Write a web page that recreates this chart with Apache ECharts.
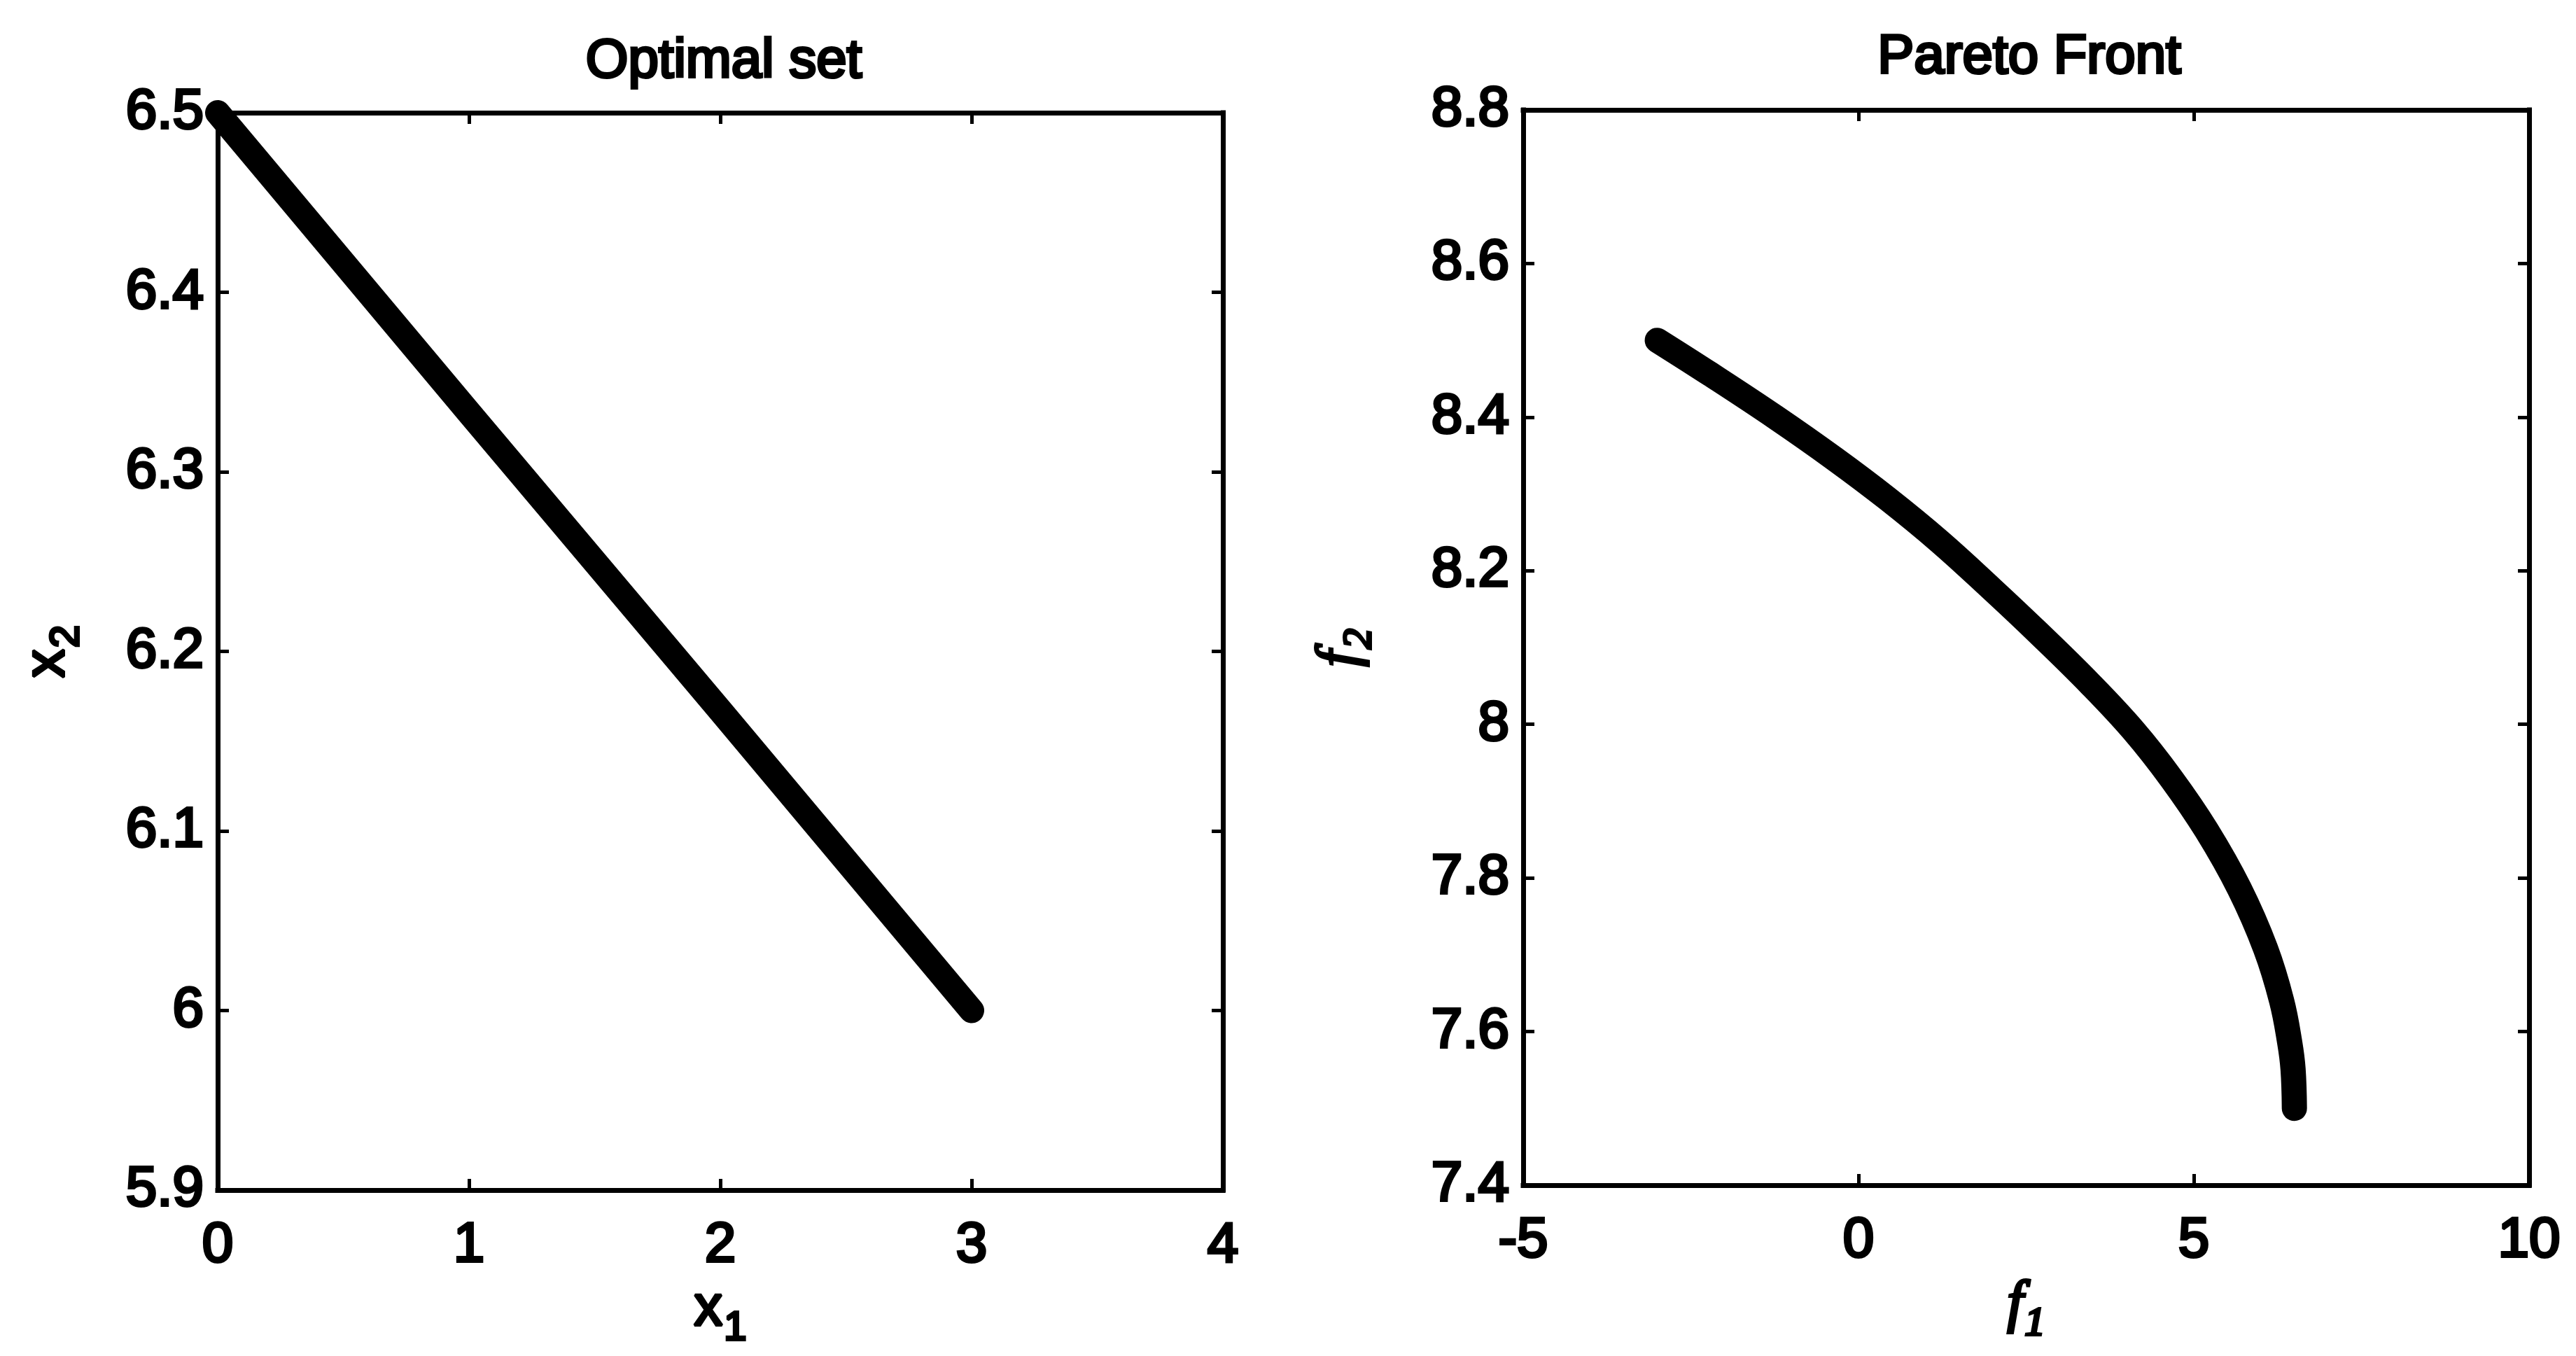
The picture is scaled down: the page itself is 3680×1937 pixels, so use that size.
<!DOCTYPE html>
<html>
<head>
<meta charset="utf-8">
<title>Optimal set and Pareto Front</title>
<script src="https://cdn.jsdelivr.net/npm/echarts@6/dist/echarts.min.js"></script>
<style>
  html, body { margin: 0; padding: 0; background: #ffffff; }
  #chart { width: 3680px; height: 1937px; }
</style>
</head>
<body>
<div id="chart"></div>
<script>
// Decision space: the optimal set (x1, x2)
const x1Values = [0, 1, 2, 3];
const x2Values = [6.5, 6.333, 6.167, 6.0];

// Objective space: the Pareto front (f1, f2)
const f1Values = [-3.0, -2.21, -1.24, -0.36, 0.43, 1.21, 1.99, 2.67, 3.45, 4.1, 4.66, 5.19, 5.68, 6.07, 6.31, 6.43, 6.48, 6.5];
const f2Values = [8.5, 8.456, 8.4, 8.346, 8.294, 8.238, 8.176, 8.12, 8.053, 7.992, 7.93, 7.862, 7.786, 7.708, 7.64, 7.586, 7.551, 7.5];

// Axis ranges and tick steps
const leftX = { min: 0, max: 4, step: 1 };
const leftY = { min: 5.9, max: 6.5, step: 0.1 };
const rightX = { min: -5, max: 10, step: 5 };
const rightY = { min: 7.4, max: 8.8, step: 0.2 };

const titles = ['Optimal set', 'Pareto Front'];

const sans = 'Liberation Sans, Arial, Helvetica, sans-serif';
const serif = 'Liberation Serif, Times New Roman, serif';
const tickFont = 80;
const frameWidth = 7;

// heavier strokes for regular-weight text
const heavy = { textBorderColor: '#000', textBorderWidth: 4 };

function pairs(xs, ys) {
  return xs.map((x, i) => [x, ys[i]]);
}

function frameAxis(range, gridIndex, position, showLabels, extra) {
  return Object.assign({
    type: 'value',
    gridIndex: gridIndex,
    position: position,
    min: range.min,
    max: range.max,
    interval: range.step,
    splitLine: { show: false },
    axisLine: { show: true, onZero: false, lineStyle: { color: '#000', width: frameWidth, cap: 'square' } },
    axisTick: { show: true, inside: true, length: 16, lineStyle: { color: '#000', width: 5 } },
    axisLabel: Object.assign({
      show: showLabels,
      color: '#000',
      fontFamily: sans,
      fontWeight: 'normal',
      fontSize: tickFont,
      margin: (position === 'bottom') ? 40 : 20
    }, heavy)
  }, extra || {});
}

const subRich = (family, style) => ({
  m: Object.assign({ fontFamily: family, fontStyle: style, fontSize: 82, lineHeight: 84, color: '#000', verticalAlign: 'top' }, heavy),
  s: Object.assign({ fontFamily: family, fontStyle: style, fontSize: 58, lineHeight: 58, color: '#000', verticalAlign: 'top', padding: [40, 0, 0, 2] }, heavy)
});

const titleStyle = Object.assign({ fontFamily: sans, fontWeight: 'normal', fontSize: 78, color: '#000' }, heavy);

const option = {
  animation: false,
  backgroundColor: '#ffffff',
  title: [
    { text: titles[0], left: 1029, top: 44, textAlign: 'center', textStyle: titleStyle },
    { text: titles[1], left: 2894, top: 38, textAlign: 'center', textStyle: titleStyle }
  ],
  grid: [
    { left: 311, top: 161, width: 1436, height: 1539, containLabel: false },
    { left: 2176, top: 157, width: 1437, height: 1536, containLabel: false }
  ],
  xAxis: [
    frameAxis(leftX, 0, 'bottom', true, {
      name: '{m|x}{s|1}', nameLocation: 'middle', nameGap: 38,
      nameTextStyle: { rich: subRich(sans, 'normal') }
    }),
    frameAxis(leftX, 0, 'top', false),
    frameAxis(rightX, 1, 'bottom', true, {
      name: '{m|f}{s|1}', nameLocation: 'middle', nameGap: 130,
      nameTextStyle: { rich: subRich(serif, 'italic') }
    }),
    frameAxis(rightX, 1, 'top', false)
  ],
  yAxis: [
    frameAxis(leftY, 0, 'left', true, {
      name: '{m|x}{s|2}', nameLocation: 'middle', nameGap: 200, nameRotate: 90,
      nameTextStyle: { rich: subRich(sans, 'normal') }
    }),
    frameAxis(leftY, 0, 'right', false),
    frameAxis(rightY, 1, 'left', true, {
      name: '{m|f}{s|2}', nameLocation: 'middle', nameGap: 218, nameRotate: 90,
      nameTextStyle: { rich: subRich(serif, 'italic') }
    }),
    frameAxis(rightY, 1, 'right', false)
  ],
  series: [
    {
      name: 'Optimal set',
      type: 'line',
      xAxisIndex: 0,
      yAxisIndex: 0,
      data: pairs(x1Values, x2Values),
      showSymbol: false,
      clip: false,
      lineStyle: { color: '#000', width: 36, cap: 'round', join: 'round' },
      z: 5
    },
    {
      name: 'Pareto Front',
      type: 'line',
      xAxisIndex: 2,
      yAxisIndex: 2,
      data: pairs(f1Values, f2Values),
      showSymbol: false,
      smooth: 0.4,
      clip: false,
      lineStyle: { color: '#000', width: 36, cap: 'round', join: 'round' },
      z: 5
    }
  ]
};

const chart = echarts.init(document.getElementById('chart'), null, { renderer: 'canvas' });
chart.setOption(option);
</script>
</body>
</html>
